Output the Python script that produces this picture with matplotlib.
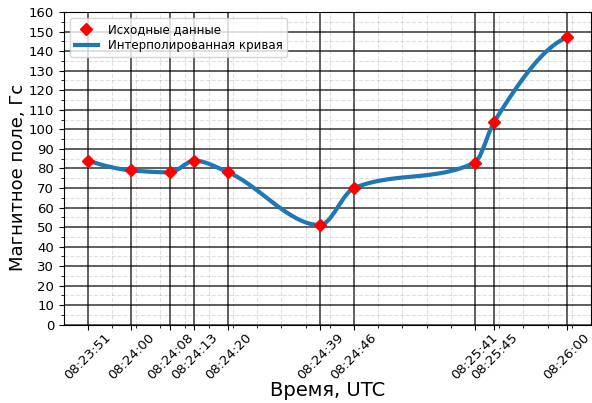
import numpy as np
import matplotlib
matplotlib.use("Agg")
import matplotlib.pyplot as plt
from matplotlib.ticker import MultipleLocator

# measurement times (seconds on the plot axis) and their labels
t_sec = [0, 9, 17, 22, 29, 48, 55, 80, 84, 99]
t_labels = ["08:23:51", "08:24:00", "08:24:08", "08:24:13", "08:24:20",
            "08:24:39", "08:24:46", "08:25:41", "08:25:45", "08:26:00"]
field = [84, 79, 78, 84, 78, 51, 70, 83, 104, 147]


def pchip(x, y, xs):
    # monotone piecewise cubic Hermite interpolation (Fritsch-Carlson)
    x = np.asarray(x, float)
    y = np.asarray(y, float)
    n = len(x)
    h = np.diff(x)
    delta = np.diff(y) / h
    d = np.zeros(n)
    for k in range(1, n - 1):
        if delta[k - 1] * delta[k] <= 0:
            d[k] = 0.0
        else:
            w1 = 2 * h[k] + h[k - 1]
            w2 = h[k] + 2 * h[k - 1]
            d[k] = (w1 + w2) / (w1 / delta[k - 1] + w2 / delta[k])

    def edge(h0, h1, m0, m1):
        s = ((2 * h0 + h1) * m0 - h0 * m1) / (h0 + h1)
        if np.sign(s) != np.sign(m0):
            s = 0.0
        elif np.sign(m0) != np.sign(m1) and abs(s) > 3 * abs(m0):
            s = 3 * m0
        return s

    d[0] = edge(h[0], h[1], delta[0], delta[1])
    d[-1] = edge(h[-1], h[-2], delta[-1], delta[-2])

    idx = np.clip(np.searchsorted(x, xs) - 1, 0, n - 2)
    hh = h[idx]
    t = (xs - x[idx]) / hh
    h00 = 2 * t**3 - 3 * t**2 + 1
    h10 = t**3 - 2 * t**2 + t
    h01 = -2 * t**3 + 3 * t**2
    h11 = t**3 - t**2
    return h00 * y[idx] + h10 * hh * d[idx] + h01 * y[idx + 1] + h11 * hh * d[idx + 1]


xs = np.linspace(min(t_sec), max(t_sec), 100)
ys = pchip(t_sec, field, xs)

fig, ax = plt.subplots(figsize=(5.92, 4.03), dpi=100)
fig.subplots_adjust(left=0.108, right=0.998, top=0.970, bottom=0.194)

ax.plot(t_sec, field, "D", color="red", markersize=6, label="Исходные данные", zorder=4)
ax.plot(xs, ys, color="#1f77b4", linewidth=3, label="Интерполированная кривая", zorder=3)

ax.set_ylim(0, 160)
ax.yaxis.set_major_locator(MultipleLocator(10))
ax.yaxis.set_minor_locator(MultipleLocator(5))
ax.set_xticks(t_sec)
ax.set_xticklabels(t_labels, rotation=45)
ax.xaxis.set_minor_locator(MultipleLocator(5))
ax.tick_params(axis="y", labelsize=9.5)
ax.tick_params(axis="x", labelsize=9.5, pad=1)

ax.grid(which="major", color="black", linewidth=1.1, alpha=0.8)
ax.grid(which="minor", color="gray", linestyle="--", linewidth=0.8, alpha=0.25)

ax.set_xlabel("Время, UTC", fontsize=14, labelpad=-1)
ax.set_ylabel("Магнитное поле, Гс", fontsize=13, labelpad=1)
ax.yaxis.label.set_y(0.47)
ax.legend(loc="upper left", fontsize=8.5, labelspacing=0.3)

fig.savefig("out.png")
